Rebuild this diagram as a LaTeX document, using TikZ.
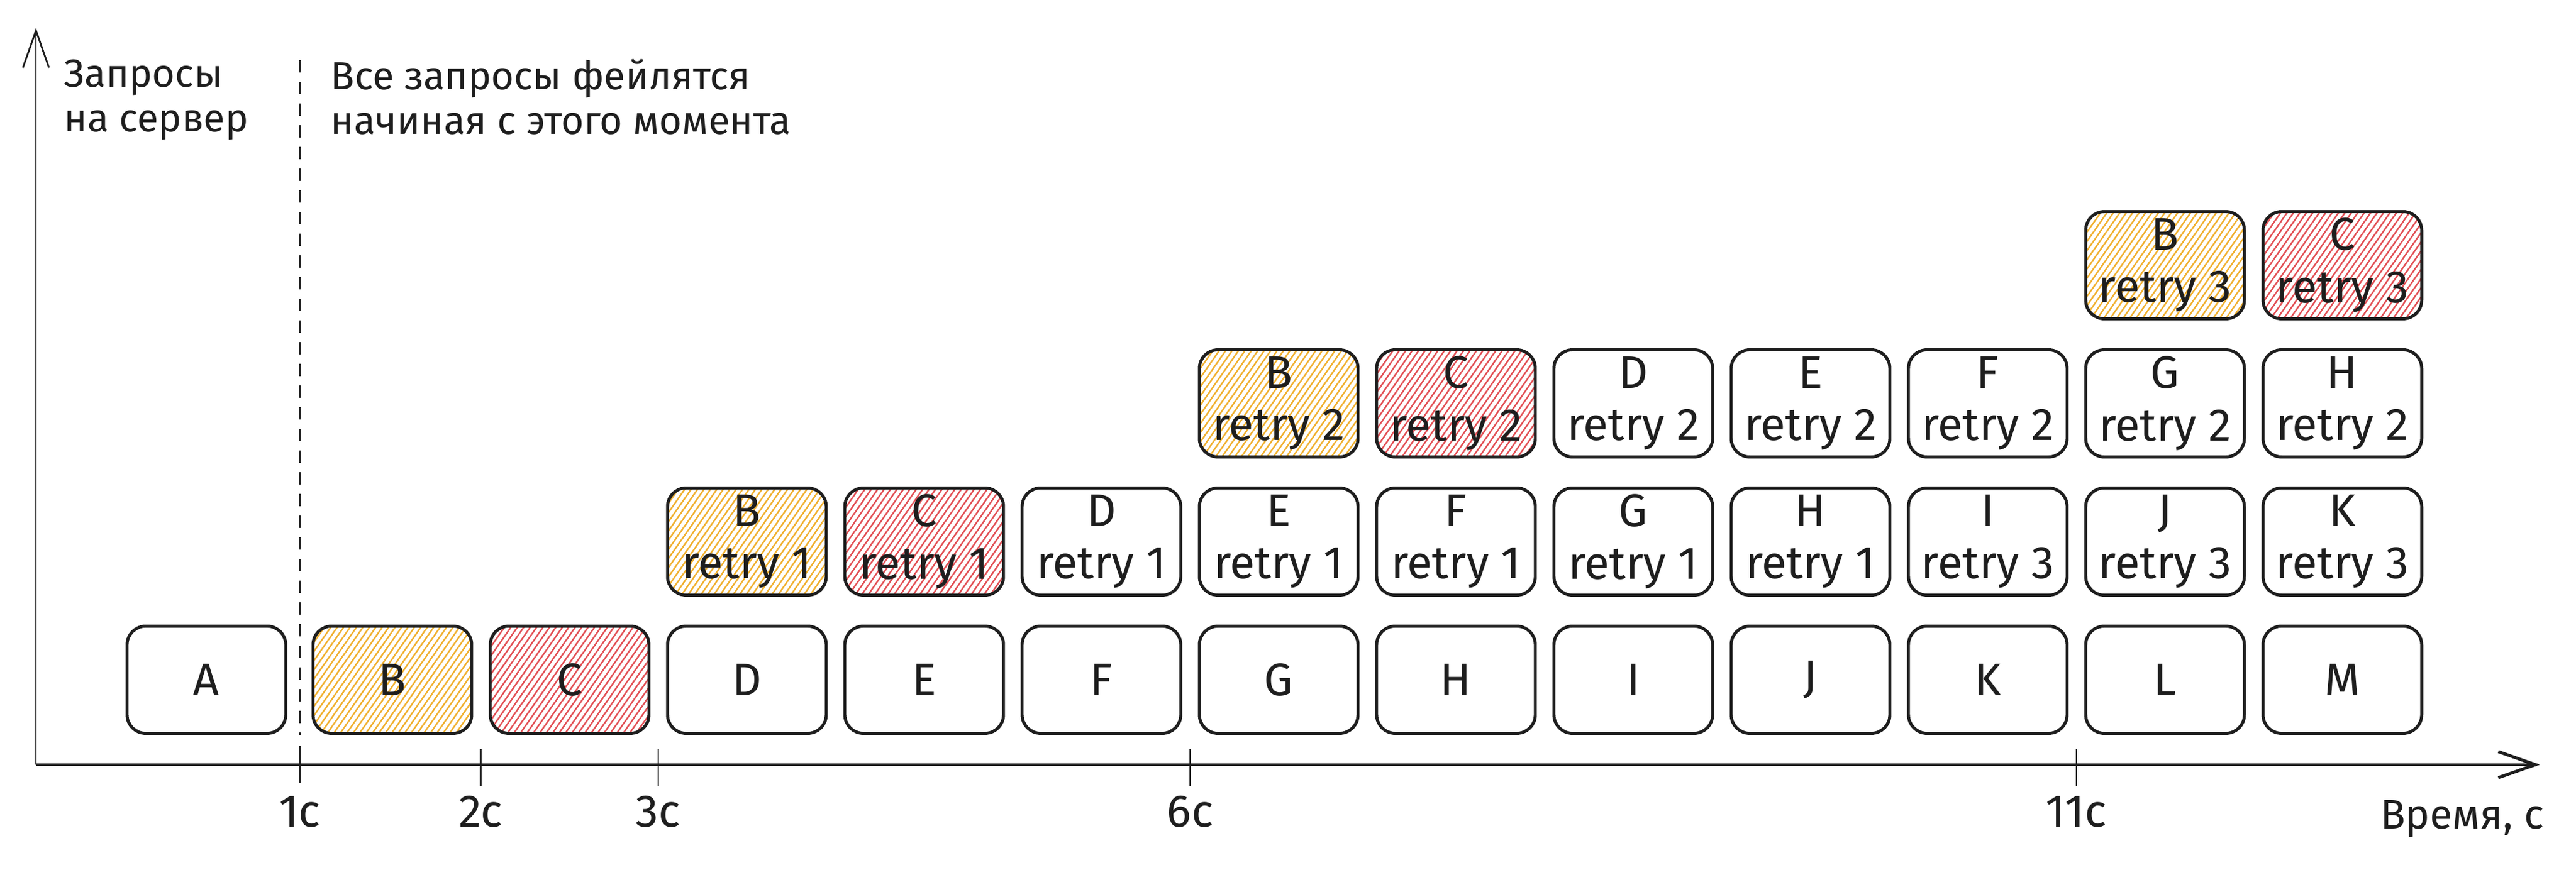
\documentclass[tikz,border=0pt]{standalone}
\usepackage{fontspec}
\setmainfont{Fira Sans}
\usetikzlibrary{arrows.meta,patterns.meta,calc}
\definecolor{ink}{HTML}{1E1E1E}
\definecolor{hatchB}{HTML}{F0B030}
\definecolor{hatchC}{HTML}{E25055}

\begin{document}
\begin{tikzpicture}[color=ink,
        >={Straight Barb[length=0.6cm,width=0.42cm]},
        req/.style={draw=ink,line width=1.4pt,rounded corners=0.3cm,minimum width=2.56cm,minimum height=1.73cm,align=center,inner sep=0pt,font=\fontsize{21}{24}\selectfont},
        reqB/.style={req,pattern={Lines[angle=55,distance=0.085cm,line width=0.7pt]},pattern color=hatchB},
        reqC/.style={req,pattern={Lines[angle=55,distance=0.085cm,line width=0.7pt]},pattern color=hatchC},
        tick/.style={line width=0.7pt},
        lbl/.style={font=\fontsize{21}{24}\selectfont,anchor=base,inner sep=0pt},
        note/.style={font=\fontsize{18}{20.5}\selectfont,align=left,anchor=north west,inner sep=0pt}]
        \useasboundingbox (0,0) rectangle (41.56,14.04);
        % first tries
        \node[req] (A) at (3.33,3.07) {A};
        \node[reqB] (B) at (6.33,3.07) {B};
        \node[reqC] (C) at (9.19,3.07) {C};
        \node[req] (D) at (12.05,3.07) {D};
        \node[req] (E) at (14.91,3.07) {E};
        \node[req] (F) at (17.77,3.07) {F};
        \node[req] (G) at (20.63,3.07) {G};
        \node[req] (H) at (23.49,3.07) {H};
        \node[req] (I) at (26.35,3.07) {I};
        \node[req] (J) at (29.21,3.07) {J};
        \node[req] (K) at (32.07,3.07) {K};
        \node[req] (L) at (34.93,3.07) {L};
        \node[req] (M) at (37.79,3.07) {M};
        % retries
        \node[reqB] (B1) at (12.05,5.30) {B\\retry 1};
        \node[reqC] (C1) at (14.91,5.30) {C\\retry 1};
        \node[req] (D1) at (17.77,5.30) {D\\retry 1};
        \node[req] (E1) at (20.63,5.30) {E\\retry 1};
        \node[req] (F1) at (23.49,5.30) {F\\retry 1};
        \node[req] (G1) at (26.35,5.30) {G\\retry 1};
        \node[req] (H1) at (29.21,5.30) {H\\retry 1};
        \node[req] (I1) at (32.07,5.30) {I\\retry 3};
        \node[req] (J1) at (34.93,5.30) {J\\retry 3};
        \node[req] (K1) at (37.79,5.30) {K\\retry 3};
        \node[reqB] (B2) at (20.63,7.53) {B\\retry 2};
        \node[reqC] (C2) at (23.49,7.53) {C\\retry 2};
        \node[req] (D2) at (26.35,7.53) {D\\retry 2};
        \node[req] (E2) at (29.21,7.53) {E\\retry 2};
        \node[req] (F2) at (32.07,7.53) {F\\retry 2};
        \node[req] (G2) at (34.93,7.53) {G\\retry 2};
        \node[req] (H2) at (37.79,7.53) {H\\retry 2};
        \node[reqB] (B3) at (34.93,9.76) {B\\retry 3};
        \node[reqC] (C3) at (37.79,9.76) {C\\retry 3};
        % axes
        \coordinate (O) at (0.58,1.70);
        \coordinate (xend) at (40.98,1.70);
        \coordinate (yend) at (0.58,13.59);
        \draw[->,line width=1.4pt](O)--(xend);
        \draw[->,line width=0.8pt](O)--(yend);
        \node[note] (ylbl) at (1.03,13.09) {Запросы\\на сервер};
        \node[lbl,font=\fontsize{19}{20}\selectfont] (xlbl) at (39.72,0.66) {Время, с};
        % ticks between the boxes
        \coordinate (t1) at ($(A.east)!0.5!(B.west)$);
        \coordinate (t2) at ($(B.east)!0.5!(C.west)$);
        \coordinate (t3) at ($(C.east)!0.5!(D.west)$);
        \coordinate (t6) at ($(F.east)!0.5!(G.west)$);
        \coordinate (t11) at ($(K.east)!0.5!(L.west)$);
        \draw[line width=0.8pt,dash pattern=on 0.2cm off 0.15cm]($(t1 |- O)+(0,11.37)$)--($(t1 |- O)+(0,0.48)$);
        \node[note] (fail) at (5.33,13.09) {Все запросы фейлятся\\начиная с этого момента};
        \draw[tick]($(t1 |- O)+(0,0.3)$)--++(0,-0.6);
        \draw[tick]($(t2 |- O)+(0,0.25)$)--++(0,-0.6);
        \draw[tick]($(t3 |- O)+(0,0.25)$)--++(0,-0.6);
        \draw[tick]($(t6 |- O)+(0,0.25)$)--++(0,-0.6);
        \draw[tick]($(t11 |- O)+(0,0.25)$)--++(0,-0.6);
        \node[lbl] (s1) at ($(t1 |- O)+(0,-1.01)$) {1с};
        \node[lbl] (s2) at ($(t2 |- O)+(0,-1.01)$) {2с};
        \node[lbl] (s3) at ($(t3 |- O)+(0,-1.01)$) {3с};
        \node[lbl] (s6) at ($(t6 |- O)+(0,-1.01)$) {6с};
        \node[lbl] (s11) at ($(t11 |- O)+(0,-1.01)$) {11с};
      \end{tikzpicture}
\end{document}
